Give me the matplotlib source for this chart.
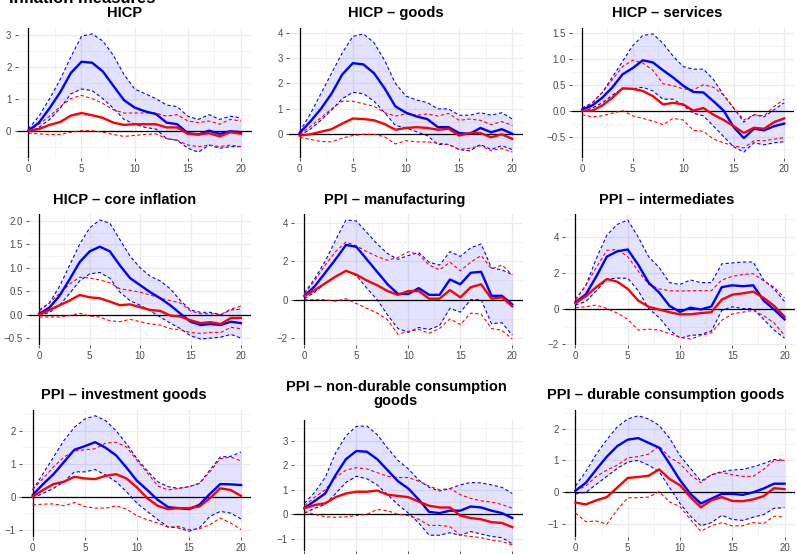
import matplotlib
matplotlib.use("Agg")
import matplotlib.pyplot as plt
from matplotlib.ticker import MultipleLocator, FuncFormatter

plt.rcParams['font.family'] = ['Liberation Sans', 'DejaVu Sans']

horizon = list(range(21))

### HICP
hicp_b = [0.0, 0.25, 0.7, 1.2, 1.8, 2.15, 2.12, 1.85, 1.4, 0.95, 0.72, 0.6, 0.52, 0.25, 0.2, -0.08, -0.12, 0.0, -0.1, -0.02, -0.05]
hicp_b_hi = [0.05, 0.45, 1.0, 1.6, 2.3, 2.95, 3.02, 2.8, 2.35, 1.75, 1.3, 1.15, 1.0, 0.8, 0.75, 0.45, 0.35, 0.5, 0.35, 0.45, 0.4]
hicp_b_lo = [-0.05, 0.1, 0.35, 0.7, 1.15, 1.3, 1.25, 1.0, 0.7, 0.35, 0.2, 0.1, 0.05, -0.25, -0.3, -0.55, -0.67, -0.45, -0.55, -0.5, -0.5]
hicp_r = [0.0, 0.05, 0.18, 0.27, 0.47, 0.55, 0.48, 0.4, 0.25, 0.18, 0.2, 0.2, 0.2, 0.1, 0.1, -0.1, -0.12, -0.08, -0.18, -0.05, -0.1]
hicp_r_hi = [0.0, 0.2, 0.45, 0.75, 1.0, 1.1, 1.0, 0.85, 0.65, 0.55, 0.55, 0.55, 0.55, 0.45, 0.5, 0.3, 0.25, 0.3, 0.2, 0.35, 0.3]
hicp_r_lo = [-0.08, -0.1, -0.12, -0.12, -0.05, 0.0, 0.0, -0.05, -0.12, -0.18, -0.15, -0.12, -0.1, -0.25, -0.3, -0.45, -0.5, -0.45, -0.5, -0.45, -0.5]

### HICP goods
goods_b = [0.05, 0.5, 1.0, 1.6, 2.35, 2.8, 2.75, 2.4, 1.8, 1.1, 0.85, 0.7, 0.6, 0.28, 0.28, 0.05, 0.02, 0.25, 0.08, 0.2, 0.02]
goods_b_hi = [0.1, 0.8, 1.6, 2.4, 3.2, 3.85, 3.95, 3.6, 2.9, 2.0, 1.5, 1.35, 1.25, 1.0, 1.0, 0.75, 0.75, 0.85, 0.75, 0.85, 0.6]
goods_b_lo = [-0.05, 0.2, 0.55, 0.95, 1.4, 1.65, 1.6, 1.3, 0.85, 0.35, 0.25, 0.1, -0.05, -0.4, -0.4, -0.6, -0.65, -0.4, -0.6, -0.45, -0.6]
goods_r = [-0.05, 0.0, 0.1, 0.2, 0.42, 0.62, 0.6, 0.55, 0.4, 0.18, 0.25, 0.28, 0.25, 0.18, 0.22, -0.05, 0.05, 0.05, -0.12, 0.0, -0.18]
goods_r_hi = [0.0, 0.3, 0.65, 1.0, 1.3, 1.3, 1.2, 1.1, 0.85, 0.72, 0.8, 0.75, 0.8, 0.72, 0.82, 0.55, 0.6, 0.55, 0.38, 0.5, 0.35]
goods_r_lo = [-0.12, -0.2, -0.28, -0.3, -0.15, -0.05, 0.0, 0.0, -0.1, -0.38, -0.25, -0.3, -0.3, -0.35, -0.4, -0.6, -0.55, -0.45, -0.65, -0.55, -0.7]

### HICP services
serv_b = [0.02, 0.1, 0.25, 0.45, 0.7, 0.82, 0.97, 0.93, 0.78, 0.64, 0.48, 0.36, 0.35, 0.18, 0.0, -0.32, -0.53, -0.35, -0.38, -0.3, -0.25]
serv_b_hi = [0.05, 0.15, 0.35, 0.65, 0.95, 1.25, 1.45, 1.48, 1.3, 1.05, 0.85, 0.8, 0.8, 0.6, 0.3, 0.05, -0.22, -0.08, -0.12, 0.02, 0.15]
serv_b_lo = [-0.02, 0.05, 0.15, 0.3, 0.42, 0.42, 0.45, 0.38, 0.22, 0.22, 0.1, -0.05, -0.1, -0.3, -0.5, -0.7, -0.8, -0.62, -0.66, -0.62, -0.6]
serv_r = [0.0, 0.0, 0.1, 0.25, 0.43, 0.42, 0.38, 0.28, 0.12, 0.15, 0.12, 0.0, 0.05, -0.08, -0.18, -0.3, -0.43, -0.33, -0.35, -0.22, -0.15]
serv_r_hi = [0.03, 0.15, 0.35, 0.6, 0.85, 0.97, 0.92, 0.78, 0.52, 0.48, 0.42, 0.4, 0.5, 0.45, 0.3, 0.05, -0.18, -0.08, -0.1, 0.08, 0.22]
serv_r_lo = [-0.08, -0.12, -0.1, -0.05, 0.0, -0.1, -0.15, -0.2, -0.27, -0.15, -0.18, -0.38, -0.4, -0.55, -0.62, -0.68, -0.72, -0.58, -0.58, -0.55, -0.52]

### HICP core
core_b = [0.02, 0.15, 0.4, 0.75, 1.12, 1.35, 1.45, 1.35, 1.05, 0.78, 0.63, 0.48, 0.35, 0.2, 0.02, -0.15, -0.22, -0.2, -0.22, -0.15, -0.18]
core_b_hi = [0.1, 0.25, 0.6, 1.05, 1.5, 1.85, 2.02, 1.95, 1.6, 1.25, 1.0, 0.82, 0.72, 0.55, 0.3, 0.1, 0.05, 0.05, 0.0, 0.1, 0.12]
core_b_lo = [-0.02, 0.05, 0.2, 0.45, 0.72, 0.87, 0.9, 0.78, 0.48, 0.3, 0.2, 0.08, -0.05, -0.18, -0.3, -0.45, -0.52, -0.5, -0.48, -0.42, -0.5]
core_r = [0.0, 0.1, 0.2, 0.3, 0.42, 0.37, 0.35, 0.28, 0.2, 0.22, 0.16, 0.1, 0.08, -0.02, -0.04, -0.12, -0.18, -0.16, -0.2, -0.07, -0.07]
core_r_hi = [0.08, 0.25, 0.45, 0.65, 0.8, 0.78, 0.74, 0.68, 0.55, 0.52, 0.48, 0.42, 0.35, 0.3, 0.25, 0.08, 0.02, 0.02, 0.0, 0.12, 0.18]
core_r_lo = [-0.05, -0.05, -0.05, -0.02, 0.03, -0.03, -0.05, -0.13, -0.15, -0.1, -0.15, -0.2, -0.22, -0.3, -0.32, -0.38, -0.4, -0.38, -0.38, -0.27, -0.3]

### PPI manufacturing
manu_b = [0.2, 0.7, 1.4, 2.1, 2.85, 2.75, 2.1, 1.45, 0.8, 0.3, 0.3, 0.6, 0.25, 0.25, 1.05, 0.8, 1.4, 1.45, 0.2, 0.2, -0.25]
manu_b_hi = [0.35, 1.1, 2.0, 3.1, 4.15, 4.1, 3.5, 2.9, 2.4, 2.1, 2.3, 2.45, 1.95, 1.8, 2.5, 2.25, 2.7, 2.9, 1.65, 1.55, 1.3]
manu_b_lo = [0.05, 0.4, 0.85, 1.2, 1.5, 1.25, 0.6, 0.0, -0.8, -1.5, -1.7, -1.45, -1.55, -1.35, -0.45, -0.65, 0.0, 0.0, -1.25, -1.2, -1.85]
manu_r = [0.2, 0.5, 0.85, 1.2, 1.5, 1.3, 1.0, 0.75, 0.45, 0.25, 0.45, 0.45, 0.05, 0.05, 0.5, 0.12, 0.65, 0.8, 0.05, 0.12, -0.35]
manu_r_hi = [0.3, 1.0, 1.8, 2.5, 3.0, 2.8, 2.5, 2.25, 2.05, 2.2, 2.5, 2.35, 1.8, 1.55, 1.95, 1.5, 1.95, 2.3, 1.6, 1.8, 1.3]
manu_r_lo = [0.0, 0.0, 0.0, -0.08, 0.05, -0.2, -0.45, -0.7, -1.05, -1.8, -1.65, -1.55, -1.75, -1.5, -1.0, -1.3, -0.7, -0.75, -1.5, -1.6, -2.05]

### PPI intermediates
inter_b = [0.35, 0.8, 1.8, 2.9, 3.2, 3.3, 2.45, 1.45, 0.9, 0.15, -0.18, 0.05, -0.05, 0.12, 1.2, 1.3, 1.25, 1.3, 0.45, -0.05, -0.6]
inter_b_hi = [0.5, 1.3, 2.8, 4.1, 4.7, 4.95, 4.0, 2.9, 2.3, 1.45, 1.35, 1.6, 1.45, 1.45, 2.5, 2.55, 2.6, 2.6, 1.6, 1.1, 0.4]
inter_b_lo = [0.2, 0.4, 1.0, 1.65, 1.7, 1.7, 1.0, 0.0, -0.5, -1.2, -1.65, -1.5, -1.45, -1.25, -0.1, 0.1, 0.0, 0.0, -0.6, -1.2, -1.65]
inter_r = [0.3, 0.7, 1.2, 1.65, 1.5, 1.1, 0.45, 0.1, -0.05, -0.2, -0.32, -0.32, -0.25, -0.2, 0.5, 0.78, 0.85, 0.95, 0.6, 0.15, -0.45]
inter_r_hi = [0.5, 1.3, 2.3, 3.25, 3.3, 2.9, 2.1, 1.35, 1.1, 1.0, 0.98, 1.0, 1.0, 1.0, 1.6, 1.8, 1.9, 1.95, 1.55, 1.2, 0.6]
inter_r_lo = [0.05, 0.1, 0.2, 0.0, -0.25, -0.6, -1.2, -1.15, -1.2, -1.4, -1.6, -1.7, -1.5, -1.35, -0.65, -0.3, -0.2, -0.1, -0.4, -0.8, -1.5]

### PPI investment goods
inv_b = [0.05, 0.38, 0.68, 1.05, 1.42, 1.53, 1.65, 1.48, 1.25, 0.88, 0.48, 0.2, -0.1, -0.32, -0.35, -0.38, -0.25, 0.08, 0.38, 0.37, 0.35]
inv_b_hi = [0.2, 0.7, 1.2, 1.7, 2.1, 2.35, 2.45, 2.3, 2.0, 1.6, 1.15, 0.78, 0.45, 0.3, 0.25, 0.3, 0.4, 0.8, 1.2, 1.22, 1.35]
inv_b_lo = [-0.05, 0.1, 0.25, 0.45, 0.75, 0.75, 0.82, 0.65, 0.45, 0.15, -0.2, -0.45, -0.7, -0.92, -0.95, -1.05, -0.95, -0.6, -0.45, -0.5, -0.68]
inv_r = [0.0, 0.2, 0.38, 0.45, 0.6, 0.55, 0.53, 0.63, 0.68, 0.55, 0.28, -0.05, -0.28, -0.38, -0.35, -0.35, -0.3, -0.05, 0.25, 0.2, 0.02]
inv_r_hi = [0.22, 0.55, 0.9, 1.2, 1.38, 1.42, 1.45, 1.62, 1.65, 1.5, 1.1, 0.72, 0.32, 0.2, 0.25, 0.3, 0.4, 0.75, 1.15, 1.2, 1.08]
inv_r_lo = [-0.25, -0.23, -0.22, -0.28, -0.18, -0.3, -0.35, -0.35, -0.28, -0.38, -0.58, -0.7, -0.8, -0.93, -0.9, -1.0, -0.98, -0.85, -0.65, -0.8, -1.0]

### PPI non-durable consumption goods
nondur_b = [0.25, 0.55, 0.85, 1.6, 2.25, 2.58, 2.55, 2.25, 1.8, 1.35, 1.05, 0.6, 0.1, 0.05, 0.15, 0.15, 0.32, 0.28, 0.15, 0.05, -0.15]
nondur_b_hi = [0.45, 0.9, 1.5, 2.5, 3.2, 3.58, 3.6, 3.25, 2.7, 2.2, 1.85, 1.4, 1.1, 0.95, 1.05, 1.2, 1.3, 1.28, 1.2, 1.1, 0.85]
nondur_b_lo = [0.05, 0.25, 0.4, 0.85, 1.3, 1.55, 1.45, 1.2, 0.8, 0.4, 0.05, -0.35, -0.85, -0.85, -0.75, -0.85, -0.7, -0.8, -0.9, -0.95, -1.2]
nondur_r = [0.25, 0.38, 0.45, 0.7, 0.85, 0.92, 0.92, 0.97, 0.8, 0.75, 0.7, 0.52, 0.35, 0.28, 0.28, -0.05, -0.15, -0.2, -0.32, -0.35, -0.52]
nondur_r_hi = [0.35, 0.7, 1.0, 1.5, 1.8, 1.9, 1.85, 1.7, 1.55, 1.5, 1.5, 1.35, 1.15, 1.0, 1.05, 0.8, 0.65, 0.55, 0.5, 0.4, 0.25]
nondur_r_lo = [0.1, 0.0, -0.1, -0.12, -0.1, -0.05, 0.0, 0.2, 0.15, 0.0, -0.05, -0.2, -0.45, -0.45, -0.5, -0.85, -0.9, -0.95, -1.05, -1.1, -1.25]

### PPI durable consumption goods
dur_b = [0.05, 0.3, 0.72, 1.12, 1.45, 1.65, 1.7, 1.55, 1.4, 0.9, 0.38, -0.05, -0.35, -0.2, -0.05, -0.05, -0.08, 0.0, 0.12, 0.27, 0.27]
dur_b_hi = [0.2, 0.65, 1.2, 1.65, 2.05, 2.3, 2.4, 2.3, 2.1, 1.7, 1.15, 0.75, 0.35, 0.55, 0.65, 0.7, 0.72, 0.8, 0.9, 1.03, 1.0]
dur_b_lo = [-0.05, 0.0, 0.25, 0.5, 0.75, 0.95, 1.0, 0.85, 0.65, 0.15, -0.35, -0.75, -1.05, -0.95, -0.72, -0.85, -0.88, -0.78, -0.7, -0.5, -0.48]
dur_r = [-0.32, -0.38, -0.25, -0.15, 0.15, 0.45, 0.48, 0.52, 0.72, 0.42, 0.22, -0.15, -0.47, -0.25, -0.15, -0.27, -0.28, -0.22, -0.12, 0.13, 0.1]
dur_r_hi = [0.05, 0.2, 0.5, 0.7, 0.85, 1.08, 1.12, 1.2, 1.45, 1.1, 0.9, 0.55, 0.3, 0.55, 0.62, 0.55, 0.5, 0.5, 0.72, 1.0, 1.0]
dur_r_lo = [-0.65, -0.92, -0.9, -1.0, -0.55, -0.17, -0.17, -0.15, 0.02, -0.3, -0.45, -0.85, -1.22, -1.05, -0.95, -1.05, -1.05, -0.95, -0.98, -0.75, -0.78]

titles = ["HICP", "HICP \u2013 goods", "HICP \u2013 services",
          "HICP \u2013 core inflation", "PPI \u2013 manufacturing", "PPI \u2013 intermediates",
          "PPI \u2013 investment goods", "PPI \u2013 non-durable consumption\ngoods",
          "PPI \u2013 durable consumption goods"]

panels = [
    (hicp_b, hicp_b_hi, hicp_b_lo, hicp_r, hicp_r_hi, hicp_r_lo),
    (goods_b, goods_b_hi, goods_b_lo, goods_r, goods_r_hi, goods_r_lo),
    (serv_b, serv_b_hi, serv_b_lo, serv_r, serv_r_hi, serv_r_lo),
    (core_b, core_b_hi, core_b_lo, core_r, core_r_hi, core_r_lo),
    (manu_b, manu_b_hi, manu_b_lo, manu_r, manu_r_hi, manu_r_lo),
    (inter_b, inter_b_hi, inter_b_lo, inter_r, inter_r_hi, inter_r_lo),
    (inv_b, inv_b_hi, inv_b_lo, inv_r, inv_r_hi, inv_r_lo),
    (nondur_b, nondur_b_hi, nondur_b_lo, nondur_r, nondur_r_hi, nondur_r_lo),
    (dur_b, dur_b_hi, dur_b_lo, dur_r, dur_r_hi, dur_r_lo),
]

# y break step per panel, decimals for tick labels
y_steps = [1, 1, 0.5, 0.5, 2, 2, 1, 1, 1]
y_decimals = [0, 0, 1, 1, 0, 0, 0, 0, 0]

W, H = 797, 554
# plot areas in pixels: left, right, top, bottom
boxes = [(17.7, 251.6, 28, 158), (289, 523, 28, 158), (572, 794.4, 28, 158),
         (29.2, 251, 214, 345), (294, 522.7, 214, 345), (565, 795, 214, 345),
         (22.3, 251.5, 410, 537), (294, 522.7, 420, 551), (565, 795, 410, 537)]
title_pos = [(125, 13), (395.5, 13), (667, 13),
             (124.5, 200), (395, 200), (666.7, 200),
             (124, 395), (396, 394), (666, 395)]

fig = plt.figure(figsize=(W / 100, H / 100), dpi=100)
dash = (0, (3, 2.2))

for i, (bm, bh, bl, rm, rh, rl) in enumerate(panels):
    l, r, t, b = boxes[i]
    ax = fig.add_axes([l / W, 1 - b / H, (r - l) / W, (b - t) / H])
    ax.fill_between(horizon, bl, bh, color='blue', alpha=0.11, linewidth=0)
    ax.axhline(0, color='black', linewidth=0.9, zorder=2)
    ax.axvline(0, color='black', linewidth=0.9, zorder=2)
    ax.plot(horizon, bh, color='blue', linestyle=dash, linewidth=0.8, zorder=3)
    ax.plot(horizon, bl, color='blue', linestyle=dash, linewidth=0.8, zorder=3)
    ax.plot(horizon, rh, color='red', linestyle=dash, linewidth=0.8, zorder=3)
    ax.plot(horizon, rl, color='red', linestyle=dash, linewidth=0.8, zorder=3)
    ax.plot(horizon, bm, color='blue', linewidth=1.7, zorder=4)
    ax.plot(horizon, rm, color='red', linewidth=1.7, zorder=5)

    lo = min(min(bl), min(rl), min(bm), min(rm))
    hi = max(max(bh), max(rh), max(bm), max(rm))
    pad = (hi - lo) * 0.05
    ax.set_ylim(lo - pad, hi + pad)
    ax.set_xlim(-1, 21)

    ax.xaxis.set_major_locator(MultipleLocator(5))
    ax.xaxis.set_minor_locator(MultipleLocator(2.5))
    ax.yaxis.set_major_locator(MultipleLocator(y_steps[i]))
    ax.yaxis.set_minor_locator(MultipleLocator(y_steps[i] / 2))
    d = y_decimals[i]
    ax.yaxis.set_major_formatter(FuncFormatter(
        lambda v, p, d=d: (f"{v:.{d}f}").replace('-', '\u2212') if abs(v) > 1e-9 else f"{0:.{d}f}"))

    ax.grid(True, which='major', color='#EBEBEB', linewidth=0.9, zorder=0)
    ax.grid(True, which='minor', color='#F3F3F3', linewidth=0.6, zorder=0)
    ax.set_axisbelow(True)
    for s in ax.spines.values():
        s.set_visible(False)
    ax.tick_params(which='major', length=2.5, width=0.6, color='#333333',
                   labelsize=7, labelcolor='#4D4D4D', pad=2)
    ax.tick_params(axis='x', pad=1.5)
    ax.tick_params(which='minor', length=0)
    if i == 7:
        # x labels of this panel fall below the picture edge
        ax.tick_params(axis='x', labelbottom=False)

    tx, ty = title_pos[i]
    fig.text(tx / W, 1 - ty / H, titles[i], ha='center', va='center',
             fontsize=10.5, fontweight='bold', linespacing=1.05)

fig.text(155 / W, 1 - 3 / H, "Inflation measures", ha='right', va='baseline',
         fontsize=12, fontweight='bold')

fig.savefig("out.png", dpi=100)
